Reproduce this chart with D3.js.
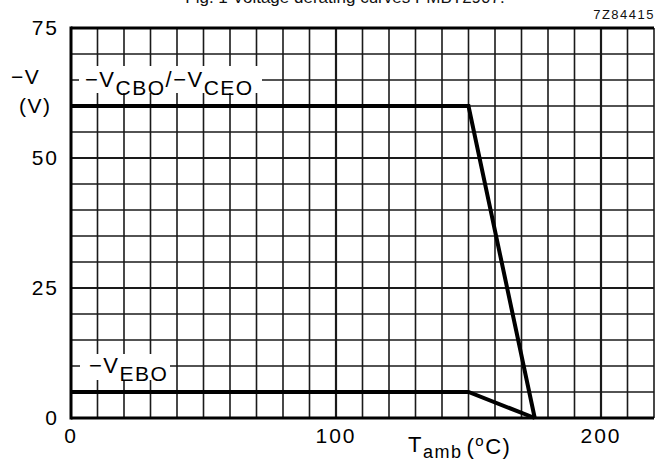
<!DOCTYPE html>
<html>
<head>
<meta charset="utf-8">
<script src="https://cdn.jsdelivr.net/npm/d3@7"></script>
<style>
  body { margin: 0; background: #fff; }
  svg { display: block; font-family: "Liberation Sans", Arial, sans-serif; }
</style>
</head>
<body>
<svg id="chart" width="662" height="461"></svg>
<script>
// derating curves
const vcboT = [0, 150, 175];
const vcboV = [60, 60, 0];
const veboT = [0, 150, 175];
const veboV = [5, 5, 0];
const xTicks = [0, 100, 200];
const yTicks = [0, 25, 50, 75];

const svg = d3.select('#chart');
const x = d3.scaleLinear().domain([0, 220]).range([71, 654]);
const y = d3.scaleLinear().domain([0, 75]).range([418, 28]);

// title, cut off by the top of the scan
svg.append('text')
    .attr('x', 345).attr('y', 3)
    .attr('text-anchor', 'middle')
    .attr('font-size', 17)
    .attr('fill', '#111')
    .text('Fig. 1 Voltage derating curves PMBT2907.');

svg.append('text')
    .attr('x', 655).attr('y', 19)
    .attr('text-anchor', 'end')
    .attr('font-size', 13)
    .attr('letter-spacing', 1.5)
    .attr('fill', '#111')
    .text('7Z84415');

// grid
const grid = svg.append('g').attr('stroke', '#1a1a1a');
grid.selectAll('line.v')
    .data(d3.range(10, 230, 10))
    .join('line')
    .attr('class', 'v')
    .attr('x1', d => x(d)).attr('x2', d => x(d))
    .attr('y1', y(75)).attr('y2', y(0))
    .attr('stroke-width', d => d % 100 === 0 ? 2.2 : 1.6);
grid.selectAll('line.h')
    .data(d3.range(5, 75, 5))
    .join('line')
    .attr('class', 'h')
    .attr('x1', x(0)).attr('x2', x(220))
    .attr('y1', d => y(d)).attr('y2', d => y(d))
    .attr('stroke-width', d => d % 25 === 0 ? 2.2 : 1.6);

// heavy frame: left, top, bottom
const frame = svg.append('g').attr('stroke', '#000').attr('stroke-width', 3);
frame.append('line').attr('x1', x(0)).attr('x2', x(0)).attr('y1', y(75) - 1.5).attr('y2', y(0) + 1.5);
frame.append('line').attr('x1', x(0)).attr('x2', x(220)).attr('y1', y(75)).attr('y2', y(75));
frame.append('line').attr('x1', x(0)).attr('x2', x(220)).attr('y1', y(0)).attr('y2', y(0));

// curves
const line = d3.line().x(d => x(d[0])).y(d => y(d[1]));
svg.append('path')
    .datum(d3.zip(vcboT, vcboV))
    .attr('d', line)
    .attr('fill', 'none').attr('stroke', '#000')
    .attr('stroke-width', 4).attr('stroke-linejoin', 'miter');
svg.append('path')
    .datum(d3.zip(veboT, veboV))
    .attr('d', line)
    .attr('fill', 'none').attr('stroke', '#000')
    .attr('stroke-width', 4).attr('stroke-linejoin', 'miter');

// curve labels sit on white patches over the grid
svg.append('rect').attr('x', 79).attr('y', 66).attr('width', 183).attr('height', 27).attr('fill', '#fff');
svg.append('rect').attr('x', 80).attr('y', 354).attr('width', 90).attr('height', 26).attr('fill', '#fff');

const lab1 = svg.append('text').attr('x', 85).attr('y', 87)
    .attr('font-size', 22).attr('letter-spacing', 1.5).attr('fill', '#000');
lab1.append('tspan').text('\u2212V');
lab1.append('tspan').attr('dy', 8).attr('font-size', 21).text('CBO');
lab1.append('tspan').attr('dy', -8).text('/\u2212V');
lab1.append('tspan').attr('dy', 8).attr('font-size', 21).text('CEO');

const lab2 = svg.append('text').attr('x', 89).attr('y', 373)
    .attr('font-size', 22).attr('letter-spacing', 1.5).attr('fill', '#000');
lab2.append('tspan').text('\u2212V');
lab2.append('tspan').attr('dy', 8).attr('font-size', 21).text('EBO');

// tick labels
svg.selectAll('text.yt')
    .data(yTicks)
    .join('text')
    .attr('class', 'yt')
    .attr('x', 59).attr('y', d => y(d) + 7)
    .attr('text-anchor', 'end')
    .attr('font-size', 21)
    .attr('letter-spacing', 2)
    .text(d => d);
svg.selectAll('text.xt')
    .data(xTicks)
    .join('text')
    .attr('class', 'xt')
    .attr('x', d => x(d)).attr('y', 443)
    .attr('text-anchor', 'middle')
    .attr('font-size', 21)
    .attr('letter-spacing', 2)
    .text(d => d);

// axis titles
svg.append('text').attr('x', 11).attr('y', 84).attr('font-size', 21).attr('letter-spacing', 1.5).text('\u2212V');
svg.append('text').attr('x', 19).attr('y', 113).attr('font-size', 21).attr('letter-spacing', 1.5).text('(V)');

const xt = svg.append('text').attr('x', 408).attr('y', 452).attr('font-size', 22).attr('letter-spacing', 1.5);
xt.append('tspan').text('T');
xt.append('tspan').attr('dy', 6).attr('font-size', 18).text('amb');
xt.append('tspan').attr('dy', -4).attr('dx', 4).text('(');
xt.append('tspan').attr('dy', -8).attr('font-size', 15).text('o');
xt.append('tspan').attr('dy', 8).text('C)');
</script>
</body>
</html>
